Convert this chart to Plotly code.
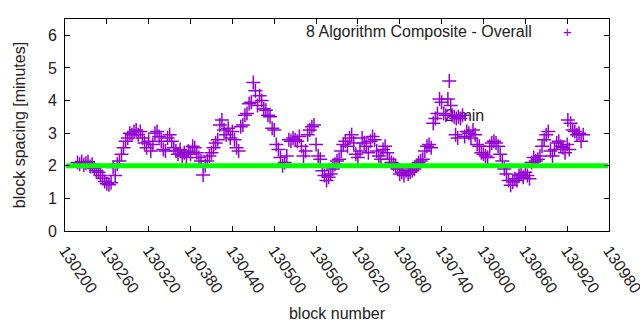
import plotly.graph_objects as go

# ---------------- data ----------------
blocks = [
    130218, 130221, 130224, 130227, 130230, 130233, 130236, 130239,
    130242, 130245, 130248, 130251, 130254, 130257, 130260, 130263, 130266,
    130269, 130272, 130275, 130278, 130281, 130284, 130287, 130290, 130293, 130296, 130299,
    130302, 130305, 130308, 130311, 130314, 130317, 130320, 130323, 130326,
    130329, 130332, 130335, 130338, 130341, 130344, 130347, 130350, 130353,
    130356, 130359, 130362, 130365, 130368, 130371, 130374, 130377, 130380,
    130383, 130386, 130389, 130392, 130395, 130398, 130401, 130404, 130407, 130410,
    130413, 130416, 130419, 130422, 130425, 130428, 130431, 130434, 130437, 130440, 130443,
    130446, 130449, 130452, 130455, 130458, 130461, 130464, 130467, 130470, 130473, 130476,
    130479, 130482, 130485, 130488, 130491, 130494, 130497, 130500,
    130503, 130506, 130509, 130512, 130515, 130518, 130521, 130524, 130527, 130530, 130533, 130536,
    130539, 130542, 130545, 130548, 130551, 130554, 130557, 130560, 130563, 130566,
    130569, 130572, 130575, 130578, 130581, 130584, 130587, 130590, 130593, 130596, 130599,
    130602, 130605, 130608, 130611, 130614, 130617, 130620, 130623, 130626, 130629, 130632, 130635,
    130638, 130641, 130644, 130647, 130650, 130653, 130656, 130659, 130662, 130665, 130668, 130671, 130674,
    130677, 130680, 130683, 130686, 130689, 130692, 130695, 130698, 130701, 130704,
    130707, 130710, 130713, 130716, 130719, 130722, 130725, 130728, 130731, 130734, 130737, 130740,
    130743, 130746, 130749, 130751, 130753, 130755, 130758, 130760, 130761, 130763, 130764, 130767, 130770,
    130773, 130776, 130779, 130782, 130785, 130788, 130791, 130794, 130797, 130800,
    130803, 130806, 130809, 130812, 130815, 130818, 130821, 130824, 130827, 130830, 130833,
    130836, 130839, 130842, 130845, 130848, 130851, 130854, 130857, 130860, 130863, 130866,
    130869, 130872, 130875, 130878, 130881, 130884, 130887, 130890, 130893, 130896, 130899,
    130902, 130905, 130908, 130911, 130914, 130917, 130920, 130921, 130923, 130925,
    130928, 130931, 130934, 130937, 130940, 130943,
]
spacing = [
    2.10, 2.05, 2.13, 2.02, 2.08, 2.12, 1.98, 2.05,
    1.92, 1.85, 1.80, 1.70, 1.62, 1.52, 1.45, 1.42, 1.48,
    1.95, 1.70, 2.05, 2.15, 2.35, 2.55, 2.75, 2.85, 3.00, 2.95, 3.05,
    3.10, 2.95, 3.05, 2.85, 2.70, 2.55, 2.75, 2.45, 2.65,
    3.00, 3.05, 2.90, 2.75, 2.50, 2.45, 2.85, 2.95, 2.75,
    2.55, 2.45, 2.35, 2.50, 2.30, 2.40, 2.25, 2.45, 2.35,
    2.60, 2.55, 2.40, 2.25, 2.15, 1.72, 2.00, 2.15, 2.30, 2.40,
    2.55, 2.70, 2.80, 3.25, 3.40, 3.10, 2.95, 3.15, 2.85, 3.05, 2.80,
    2.55, 2.45, 3.20, 3.25, 3.55, 3.60, 3.90, 3.95, 4.55, 4.30, 3.85,
    4.15, 4.00, 3.75, 3.70, 3.55, 3.50, 3.15, 3.10,
    2.65, 2.50, 2.25, 2.00, 2.10, 2.30, 2.80, 2.75, 2.85, 2.80, 2.75, 2.90,
    2.60, 2.30, 2.45, 2.95, 3.10, 3.20, 3.25, 2.65, 2.30, 2.20,
    1.85, 1.70, 1.55, 1.65, 1.75, 1.90, 2.05, 2.15, 2.20, 2.45, 2.65,
    2.75, 2.60, 2.85, 2.95, 2.70, 2.35, 2.25, 2.45, 2.85, 2.70, 2.60, 2.40,
    2.75, 2.90, 2.80, 2.45, 2.30, 2.20, 2.50, 2.60, 2.40, 2.20, 2.10, 2.05, 2.00,
    1.90, 1.75, 1.80, 1.70, 1.85, 1.75, 1.80, 1.85, 1.90, 2.00,
    2.10, 2.15, 2.20, 2.45, 2.60, 2.65, 2.55, 3.30, 3.45, 3.60, 4.05, 3.95,
    3.60, 3.55, 4.05, 4.60, 3.85, 3.55, 3.50, 2.95, 3.45, 2.85, 3.50, 3.45, 3.55,
    2.90, 3.05, 3.00, 2.85, 3.10, 2.95, 2.65, 2.60, 2.40, 2.35,
    2.30, 2.25, 2.60, 2.70, 2.75, 2.70, 2.60, 2.35, 2.15, 1.90, 1.75,
    1.55, 1.40, 1.50, 1.60, 1.55, 1.70, 1.75, 1.65, 1.80, 1.70, 1.60,
    2.10, 2.25, 2.15, 2.20, 2.30, 2.60, 2.80, 2.95, 3.05, 2.45, 2.30,
    2.50, 2.70, 2.75, 2.60, 2.55, 2.40, 2.65, 3.40, 2.50, 3.30,
    3.10, 3.05, 2.95, 3.00, 2.75, 2.95,
]
series_name = "8 Algorithm Composite - Overall"
target_minutes = 2
target_label = "2 min"
label_block = 130745
label_value = 3.5
x_ticks = [130200, 130260, 130320, 130380, 130440, 130500, 130560,
           130620, 130680, 130740, 130800, 130860, 130920, 130980]
x_min, x_max = 130200, 130980
y_min, y_max = 0, 6.5
y_ticks = [0, 1, 2, 3, 4, 5, 6]

FONT = "Liberation Sans, Arial, sans-serif"
PURPLE = "#9400D3"
GREEN = "#00FF00"
TEXT = "#222222"

fig = go.Figure()

# label drawn under the points, like the reference
fig.add_trace(go.Scatter(
    x=[label_block], y=[label_value], mode="text", text=[target_label],
    textposition="middle right", textfont=dict(family=FONT, size=16, color=TEXT),
    showlegend=False, hoverinfo="skip",
))

fig.add_trace(go.Scatter(
    x=blocks, y=spacing, mode="markers", name=series_name,
    marker=dict(symbol="cross-thin", size=10, line=dict(color=PURPLE, width=1.5), color=PURPLE),
    showlegend=False,
))

fig.add_trace(go.Scatter(
    x=[x_min + 1.5, x_max - 1.5], y=[target_minutes, target_minutes], mode="lines",
    line=dict(color=GREEN, width=5), showlegend=False, hoverinfo="skip",
))

# legend (gnuplot style: text then sample), positioned in paper fractions
fig.add_annotation(
    x=0.862, y=0.9387, xref="paper", yref="paper", text=series_name, showarrow=False,
    xanchor="right", yanchor="middle", font=dict(family=FONT, size=16, color=TEXT),
)
fig.add_annotation(
    x=0.9228, y=0.9387, xref="paper", yref="paper", text="+", showarrow=False,
    xanchor="center", yanchor="middle", font=dict(family=FONT, size=15, color=PURPLE),
)

axis_common = dict(
    showline=True, linecolor="black", linewidth=1, mirror="ticks",
    ticks="inside", ticklen=5, tickcolor="black", tickwidth=1,
    showgrid=False, zeroline=False, automargin=False,
    tickfont=dict(family=FONT, size=16, color=TEXT),
)

fig.update_layout(
    width=640, height=330,
    margin=dict(l=65, r=31, t=19, b=99),
    paper_bgcolor="white", plot_bgcolor="white",
    xaxis=dict(
        range=[x_min, x_max], tickvals=x_ticks, ticktext=[str(t) for t in x_ticks],
        tickangle=55, ticklabelstandoff=3, ticklabeloverflow="allow",
        title=dict(text="block number", font=dict(family=FONT, size=16, color=TEXT), standoff=12),
        **axis_common,
    ),
    yaxis=dict(
        range=[y_min, y_max], tickvals=y_ticks, ticklabelstandoff=4,
        title=dict(text="block spacing [minutes]", font=dict(family=FONT, size=16, color=TEXT), standoff=18),
        **axis_common,
    ),
)

fig.write_html("out.html")
